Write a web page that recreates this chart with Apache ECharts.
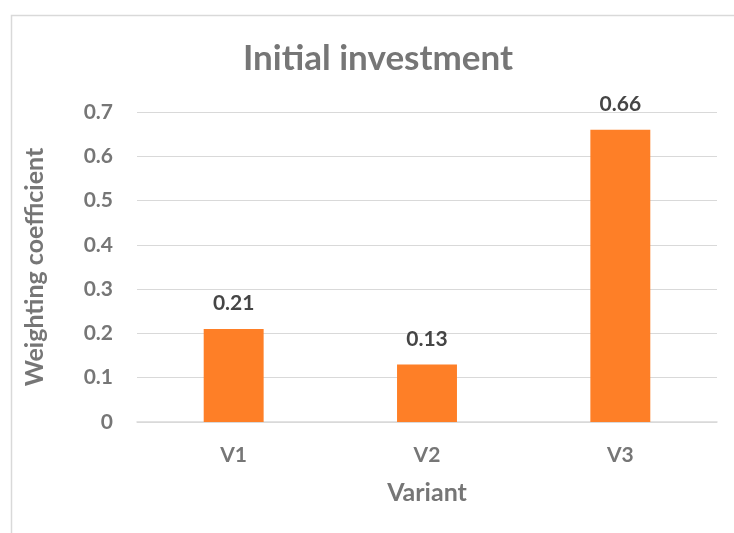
<!DOCTYPE html>
<html><head><meta charset="utf-8">
<script src="https://cdn.jsdelivr.net/npm/echarts@6/dist/echarts.min.js"></script>
<style>html,body{margin:0;padding:0;background:#fff}#c{width:734px;height:533px}</style>
</head><body><div id="c"></div>
<script>
const categories = ['V1', 'V2', 'V3'];
const values = [0.21, 0.13, 0.66];
const yTicks = [0, 0.1, 0.2, 0.3, 0.4, 0.5, 0.6, 0.7];
const titleText = 'Initial investment';
const xName = 'Variant';
const yName = 'Weighting coefficient';

const font = 'Lato, "Open Sans", sans-serif';
const gray = '#767676';
const chart = echarts.init(document.getElementById('c'), null, {renderer: 'canvas'});
chart.setOption({
  animation: false,
  backgroundColor: '#fff',
  graphic: [{
    type: 'rect', left: 9, top: 13, shape: {width: 760, height: 560},
    style: {fill: 'none', stroke: '#d9d9d9', lineWidth: 1.5}, silent: true
  }],
  title: {
    text: titleText, left: 238, top: 36,
    textStyle: {fontFamily: font, fontSize: 35, fontWeight: 'bold', color: gray}
  },
  grid: {left: 137, right: 17, top: 112, bottom: 111},
  xAxis: {
    type: 'category', data: categories,
    name: xName, nameLocation: 'middle', nameGap: 58,
    nameTextStyle: {fontFamily: font, fontSize: 25, fontWeight: 'bold', color: gray},
    axisLine: {lineStyle: {color: '#d9d9d9', width: 1.5}},
    axisTick: {show: false},
    axisLabel: {fontFamily: font, fontSize: 21, fontWeight: 'bold', color: gray, margin: 23}
  },
  yAxis: {
    type: 'value', min: yTicks[0], max: yTicks[yTicks.length - 1], interval: 0.1,
    name: yName, nameLocation: 'middle', nameGap: 90,
    nameTextStyle: {fontFamily: font, fontSize: 25, fontWeight: 'bold', color: gray},
    axisLine: {show: false}, axisTick: {show: false},
    splitLine: {lineStyle: {color: '#d9d9d9', width: 1.2}},
    axisLabel: {
      fontFamily: font, fontSize: 21, fontWeight: 'bold', color: gray, margin: 24,
      formatter: v => v === 0 ? '0' : v.toFixed(1)
    }
  },
  series: [{
    type: 'bar', data: values, barWidth: '31%',
    itemStyle: {color: '#FE7F27'},
    label: {
      show: true, position: 'top', distance: 15,
      fontFamily: font, fontSize: 21, fontWeight: 'bold', color: '#454545',
      formatter: p => p.value.toFixed(2)
    }
  }]
});
</script></body></html>
